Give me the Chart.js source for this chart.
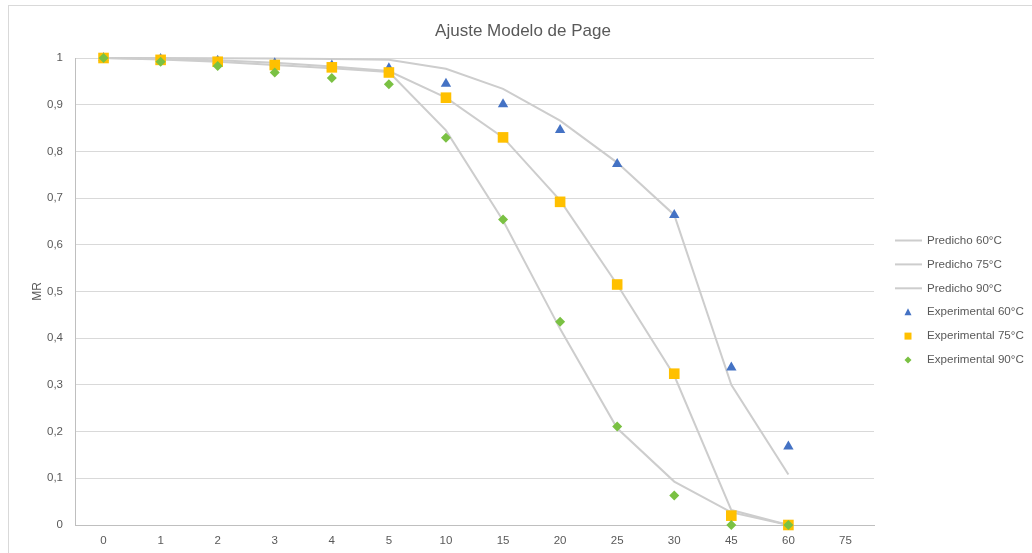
<!DOCTYPE html>
<html>
<head>
<meta charset="utf-8">
<script src="https://cdn.jsdelivr.net/npm/chart.js@4.4.1/dist/chart.umd.min.js"></script>
<style>
  html, body { margin: 0; padding: 0; background: #ffffff; }
  #wrap { width: 1032px; height: 553px; position: relative; }
</style>
</head>
<body>
<div id="wrap"><canvas id="chart" width="1032" height="553"></canvas></div>
<script>
// Drying time (min) categories
const categories = ['0', '1', '2', '3', '4', '5', '10', '15', '20', '25', '30', '45', '60', '75'];

// Page model predictions
const predicho60 = [1, 1, 0.9995, 0.999, 0.998, 0.996, 0.977, 0.934, 0.866, 0.776, 0.664, 0.300, 0.108, null];
const predicho75 = [1, 0.998, 0.995, 0.990, 0.982, 0.972, 0.915, 0.830, 0.695, 0.515, 0.320, 0.032, 0.000, null];
const predicho90 = [1, 0.997, 0.992, 0.985, 0.978, 0.970, 0.845, 0.652, 0.420, 0.207, 0.093, 0.027, 0.000, null];

// Experimental moisture ratio
const experimental60 = [1, 0.998, 0.994, 0.989, 0.984, 0.978, 0.945, 0.901, 0.846, 0.773, 0.664, 0.337, 0.168, null];
const experimental75 = [1, 0.996, 0.992, 0.985, 0.980, 0.969, 0.915, 0.830, 0.692, 0.515, 0.324, 0.020, 0.000, null];
const experimental90 = [1, 0.992, 0.983, 0.969, 0.957, 0.944, 0.829, 0.654, 0.435, 0.211, 0.063, 0.000, 0.000, null];

// Y axis tick labels (0 .. 1 step 0,1)
const yTickLabels = ['0', '0,1', '0,2', '0,3', '0,4', '0,5', '0,6', '0,7', '0,8', '0,9', '1'];

const seriesNames = ['Predicho 60°C', 'Predicho 75°C', 'Predicho 90°C',
                     'Experimental 60°C', 'Experimental 75°C', 'Experimental 90°C'];

const chartTitle = 'Ajuste Modelo de Page';

const LINE_GRAY = '#cdcdcd';
const BLUE = '#4472C4';
const GOLD = '#FFC000';
const GREEN = '#7AC143';
const TEXT = '#595959';
const FONT = '"Liberation Sans", "DejaVu Sans", Arial, sans-serif';

function lineSet(label, data, order) {
  return {
    label, data, order,
    borderColor: LINE_GRAY,
    backgroundColor: LINE_GRAY,
    borderWidth: 2,
    pointRadius: 0,
    pointHoverRadius: 0,
    tension: 0,
    spanGaps: false,
    clip: false
  };
}

function markerSet(label, data, style, color, radius, order) {
  return {
    label, data, order,
    showLine: false,
    pointStyle: style,
    pointRadius: radius,
    pointHoverRadius: radius,
    pointBackgroundColor: color,
    pointBorderColor: color,
    pointBorderWidth: 0,
    borderColor: color,
    backgroundColor: color,
    clip: false
  };
}

// Draw a small legend marker by hand
function legendMarker(ctx, style, x, y, color) {
  ctx.save();
  ctx.fillStyle = color;
  ctx.beginPath();
  if (style === 'triangle') {
    ctx.moveTo(x, y - 4);
    ctx.lineTo(x + 3.5, y + 3);
    ctx.lineTo(x - 3.5, y + 3);
  } else if (style === 'rect') {
    ctx.rect(x - 3.5, y - 3.5, 7, 7);
  } else {
    ctx.moveTo(x, y - 3.5);
    ctx.lineTo(x + 3.5, y);
    ctx.lineTo(x, y + 3.5);
    ctx.lineTo(x - 3.5, y);
  }
  ctx.closePath();
  ctx.fill();
  ctx.restore();
}

const decorPlugin = {
  id: 'decor',
  beforeDraw(chart) {
    const ctx = chart.ctx;
    ctx.save();
    ctx.fillStyle = '#ffffff';
    ctx.fillRect(0, 0, chart.width, chart.height);
    ctx.strokeStyle = '#d9d9d9';
    ctx.lineWidth = 1;
    ctx.strokeRect(8.5, 5.5, chart.width + 10, chart.height + 10);
    ctx.restore();
  },
  afterDraw(chart) {
    const ctx = chart.ctx;
    ctx.save();
    // title
    ctx.fillStyle = TEXT;
    ctx.font = '17px ' + FONT;
    ctx.textAlign = 'center';
    ctx.textBaseline = 'middle';
    ctx.fillText(chartTitle, 523, 31);

    // legend
    const styles = [null, null, null, 'triangle', 'rect', 'rectRot'];
    const colors = [LINE_GRAY, LINE_GRAY, LINE_GRAY, BLUE, GOLD, GREEN];
    ctx.font = '11.6px ' + FONT;
    ctx.textAlign = 'left';
    seriesNames.forEach((name, i) => {
      const y = 240.5 + i * 23.9;
      if (styles[i] === null) {
        ctx.strokeStyle = colors[i];
        ctx.lineWidth = 2;
        ctx.beginPath();
        ctx.moveTo(895, y);
        ctx.lineTo(922, y);
        ctx.stroke();
      } else {
        legendMarker(ctx, styles[i], 908, y, colors[i]);
      }
      ctx.fillStyle = TEXT;
      ctx.fillText(name, 927, y);
    });
    ctx.restore();
  }
};

new Chart(document.getElementById('chart'), {
  type: 'line',
  data: {
    labels: categories,
    datasets: [
      lineSet(seriesNames[0], predicho60, 5),
      lineSet(seriesNames[1], predicho75, 4),
      lineSet(seriesNames[2], predicho90, 3),
      markerSet(seriesNames[3], experimental60, 'triangle', BLUE, 6, 2),
      markerSet(seriesNames[4], experimental75, 'rect', GOLD, 7.5, 1),
      markerSet(seriesNames[5], experimental90, 'rectRot', GREEN, 5, 0)
    ]
  },
  options: {
    responsive: false,
    animation: false,
    events: [],
    layout: {
      autoPadding: false,
      padding: { left: 10, right: 158, top: 58, bottom: 0 }
    },
    plugins: {
      legend: { display: false },
      title: { display: false },
      tooltip: { enabled: false }
    },
    scales: {
      x: {
        type: 'category',
        offset: true,
        grid: { display: false, drawTicks: false },
        border: { display: true, color: '#bfbfbf', width: 1 },
        ticks: {
          color: TEXT,
          font: { family: FONT, size: 11.5 },
          padding: 9,
          maxRotation: 0,
          autoSkip: false
        },
        afterFit(scale) { scale.height = 28; }
      },
      y: {
        min: 0,
        max: 1,
        grid: { color: '#d9d9d9', lineWidth: 1, drawTicks: false },
        border: { display: true, color: '#bfbfbf', width: 1 },
        ticks: {
          stepSize: 0.1,
          color: TEXT,
          font: { family: FONT, size: 11.5 },
          padding: 12,
          callback: (value, index) => yTickLabels[index]
        },
        title: {
          display: true,
          text: 'MR',
          color: TEXT,
          font: { family: FONT, size: 12 },
          padding: { top: 20, bottom: 0 }
        },
        afterFit(scale) { scale.width = 65; }
      }
    }
  },
  plugins: [decorPlugin]
});
</script>
</body>
</html>
